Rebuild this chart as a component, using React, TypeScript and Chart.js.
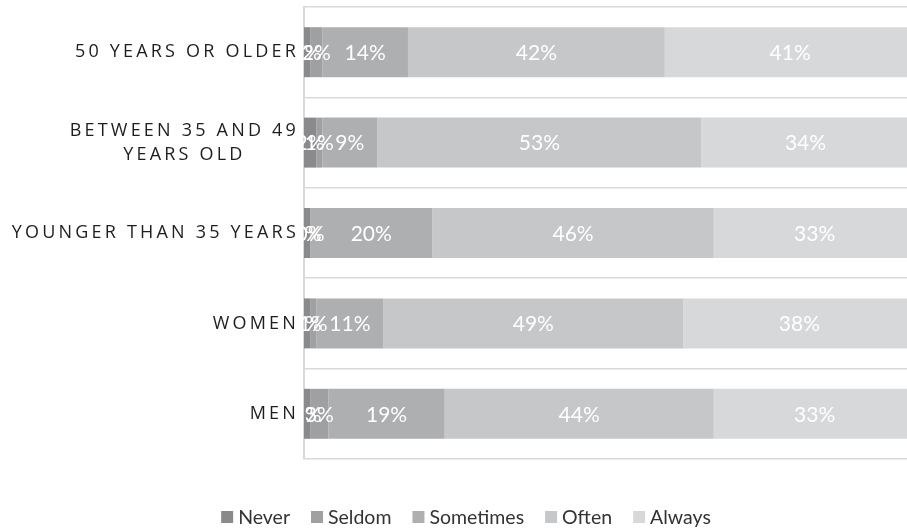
import React, { useEffect, useRef } from "react";
import { Chart, registerables } from "chart.js";

Chart.register(...registerables);

const categories: (string | string[])[] = [
  "50 YEARS OR OLDER",
  ["BETWEEN 35 AND 49", "YEARS OLD"],
  "YOUNGER THAN 35 YEARS",
  "WOMEN",
  "MEN",
];

const seriesNames = ["Never", "Seldom", "Sometimes", "Often", "Always"];
const never = [1, 2, 1, 1, 1];
const seldom = [2, 1, 0, 1, 3];
const sometimes = [14, 9, 20, 11, 19];
const often = [42, 53, 46, 49, 44];
const always = [41, 34, 33, 38, 33];
const seriesColors = ["#8a8a8c", "#9fa0a2", "#aeafb1", "#c6c7c9", "#d7d8da"];

const W = 907;
const H = 528;

const labelFont = "Lato, 'Open Sans', sans-serif";
const catFont = "'Open Sans', 'DejaVu Sans', sans-serif";

// White percentage labels centred on every segment
const segmentLabels = {
  id: "segmentLabels",
  afterDatasetsDraw(chart: any) {
    const ctx = chart.ctx;
    ctx.save();
    ctx.fillStyle = "#ffffff";
    ctx.font = `21px ${labelFont}`;
    ctx.textAlign = "center";
    ctx.textBaseline = "middle";
    chart.data.datasets.forEach((ds: any, di: number) => {
      const meta = chart.getDatasetMeta(di);
      meta.data.forEach((bar: any, i: number) => {
        const cx = (bar.x + bar.base) / 2;
        ctx.fillText(`${ds.data[i]}%`, cx, bar.y + 1);
      });
    });
    ctx.restore();
  },
};

// Spaced-out category names to the left of the axis
const categoryLabels = {
  id: "categoryLabels",
  afterDraw(chart: any) {
    const ctx = chart.ctx;
    const yScale = chart.scales.y;
    const right = chart.chartArea.left - 5;
    ctx.save();
    ctx.fillStyle = "#1e1e1e";
    ctx.font = `18px ${catFont}`;
    (ctx as any).letterSpacing = "3.2px";
    ctx.textBaseline = "middle";
    ctx.textAlign = "left";
    const lineH = 24;
    categories.forEach((cat, i) => {
      const lines = Array.isArray(cat) ? cat : [cat];
      const widths = lines.map((l) => ctx.measureText(l).width);
      const blockW = Math.max(...widths);
      const cy = yScale.getPixelForValue(i);
      const y0 = cy - ((lines.length - 1) * lineH) / 2;
      lines.forEach((l, li) => {
        const x = right - blockW + (blockW - widths[li]) / 2;
        ctx.fillText(l, x, y0 + li * lineH);
      });
    });
    ctx.restore();
  },
};

// Legend row under the plot
const legendRow = {
  id: "legendRow",
  afterDraw(chart: any) {
    const ctx = chart.ctx;
    ctx.save();
    ctx.font = `19.5px ${labelFont}`;
    ctx.textBaseline = "middle";
    ctx.textAlign = "left";
    const box = 12;
    const gapText = 5;
    const gapItem = 21;
    const widths = seriesNames.map((n) => ctx.measureText(n).width);
    const total =
      widths.reduce((a, w) => a + box + gapText + w, 0) +
      gapItem * (seriesNames.length - 1);
    let x = 466 - total / 2;
    const cy = 517;
    seriesNames.forEach((n, i) => {
      ctx.fillStyle = seriesColors[i];
      ctx.fillRect(x, cy - box / 2, box, box);
      x += box + gapText;
      ctx.fillStyle = "#333333";
      ctx.fillText(n, x, cy + 1);
      x += widths[i] + gapItem;
    });
    ctx.restore();
  },
};

export default function App() {
  const canvasRef = useRef<HTMLCanvasElement | null>(null);

  useEffect(() => {
    if (!canvasRef.current) return;
    const values = [never, seldom, sometimes, often, always];
    const chart = new Chart(canvasRef.current, {
      type: "bar",
      data: {
        labels: categories as any,
        datasets: seriesNames.map((name, i) => ({
          label: name,
          data: values[i],
          backgroundColor: seriesColors[i],
          borderWidth: 0,
          barPercentage: 0.553,
          categoryPercentage: 1,
        })),
      },
      options: {
        indexAxis: "y",
        animation: false,
        responsive: false,
        maintainAspectRatio: false,
        layout: { padding: { left: 304, top: 7, right: 0, bottom: 69 } },
        plugins: {
          legend: { display: false },
          tooltip: { enabled: false },
        },
        scales: {
          x: {
            stacked: true,
            min: 0,
            max: 98.6,
            display: false,
          },
          y: {
            stacked: true,
            ticks: { display: false },
            grid: {
              offset: true,
              color: "#d9d9d9",
              lineWidth: 1.5,
              drawTicks: false,
            },
            border: { display: true, color: "#d9d9d9", width: 2 },
            afterFit: (s: any) => {
              s.width = 0;
            },
          },
        },
      },
      plugins: [segmentLabels, categoryLabels, legendRow],
    });
    return () => chart.destroy();
  }, []);

  return (
    <div style={{ position: "absolute", left: 0, top: 0, width: W, height: H, background: "#fff" }}>
      <canvas ref={canvasRef} width={W} height={H} style={{ display: "block" }} />
    </div>
  );
}
